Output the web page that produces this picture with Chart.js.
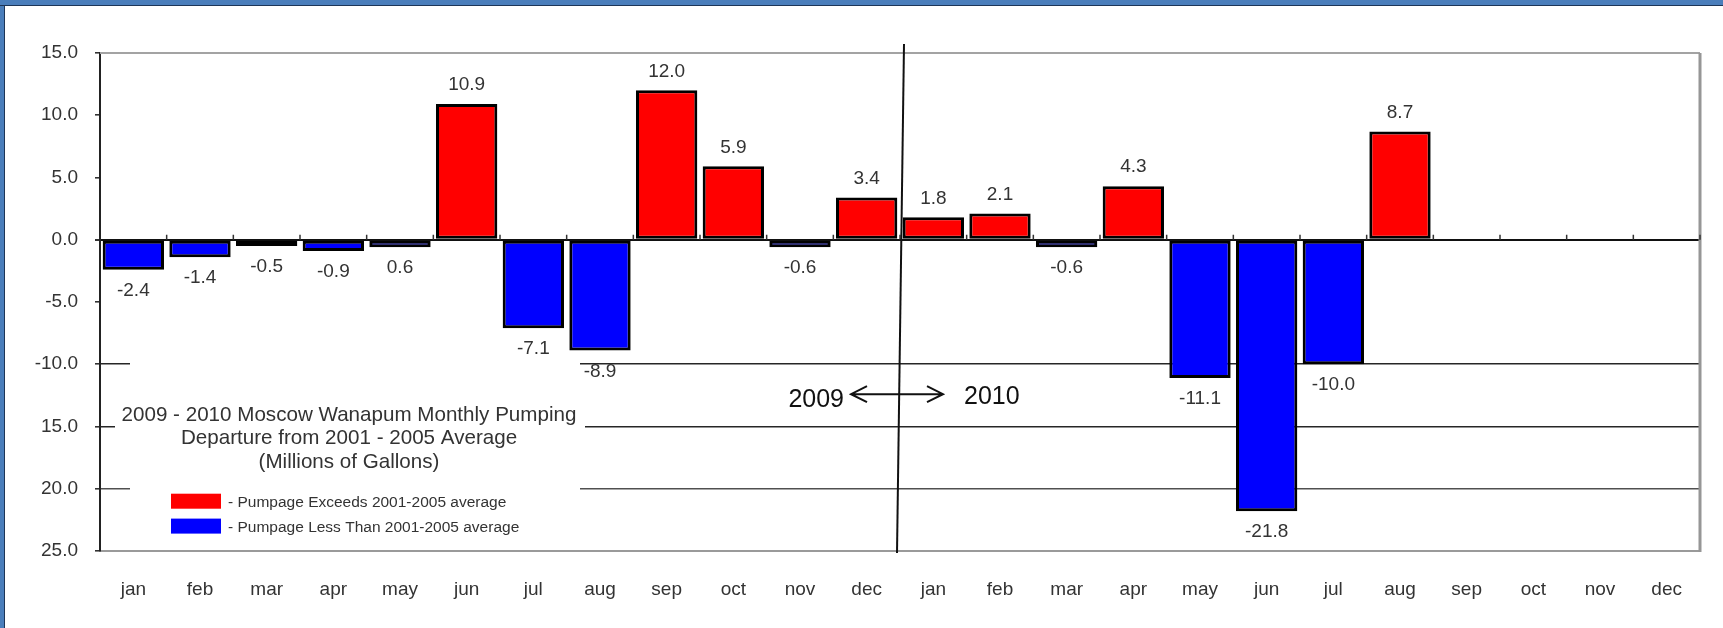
<!DOCTYPE html>
<html>
<head>
<meta charset="utf-8">
<script src="https://cdn.jsdelivr.net/npm/chart.js@4.4.0/dist/chart.umd.min.js"></script>
<style>
  html, body { margin: 0; padding: 0; background: #fff; }
  #wrap { position: relative; width: 1723px; height: 628px; }
</style>
</head>
<body>
<div id="wrap"><canvas id="c"></canvas></div>
<script>
// Moscow Wanapum monthly pumping departure, 2009-2010 (millions of gallons)

const MONTHS = ['jan', 'feb', 'mar', 'apr', 'may', 'jun', 'jul', 'aug', 'sep', 'oct', 'nov', 'dec',
                'jan', 'feb', 'mar', 'apr', 'may', 'jun', 'jul', 'aug', 'sep', 'oct', 'nov', 'dec'];

const DEPARTURE = [-2.4, -1.4, -0.5, -0.9, -0.6, 10.9, -7.1, -8.9, 12.0, 5.9, -0.6, 3.4,
                   1.8, 2.1, -0.6, 4.3, -11.1, -21.8, -10.0, 8.7, null, null, null, null];

// value labels as printed on the chart
const VALUE_LABELS = ['-2.4', '-1.4', '-0.5', '-0.9', '0.6', '10.9', '-7.1', '-8.9', '12.0', '5.9', '-0.6', '3.4',
                      '1.8', '2.1', '-0.6', '4.3', '-11.1', '-21.8', '-10.0', '8.7'];

const TICK_VALUES = [15, 10, 5, 0, -5, -10, -15, -20, -25];
const TICK_LABELS = ['15.0', '10.0', '5.0', '0.0', '-5.0', '-10.0', '15.0', '20.0', '25.0'];

const TITLE_LINES = ['2009 - 2010 Moscow Wanapum Monthly Pumping',
                     'Departure from 2001 - 2005 Average',
                     '(Millions of Gallons)'];
const LEGEND_TEXT = ['- Pumpage Exceeds 2001-2005 average',
                     '- Pumpage Less Than 2001-2005 average'];
const YEARS = ['2009', '2010'];

const RED = '#ff0000';
const BLUE = '#0000ff';
const FONT = '"Liberation Sans", Arial, sans-serif';

function gridColor(v) {
  if (v === 0) return '#111';
  if (v === -10 || v === -15) return '#262626';
  if (v === -20) return '#505050';
  return 'rgba(0,0,0,0)';
}

const frame = {
  id: 'frame',
  beforeDraw(chart) {
    const { ctx, width, height } = chart;
    ctx.save();
    ctx.fillStyle = '#fff';
    ctx.fillRect(0, 0, width, height);
    ctx.fillStyle = '#4a7ebb';
    ctx.fillRect(0, 0, width, 5);
    ctx.fillRect(0, 0, 4, height);
    ctx.fillStyle = '#1d3557';
    ctx.fillRect(0, 5, width, 1);
    ctx.fillRect(4, 5, 1, height);
    ctx.restore();
  }
};

const overlay = {
  id: 'overlay',
  afterDatasetsDraw(chart) {
    const { ctx, chartArea: a, scales: { x, y } } = chart;
    ctx.save();

    // white panel behind the title block
    ctx.fillStyle = '#fff';
    ctx.fillRect(a.left + 30, y.getPixelForValue(-9.5), 450, y.getPixelForValue(-24.6) - y.getPixelForValue(-9.5));
    ctx.fillRect(a.left + 15, y.getPixelForValue(-13.2), 470, 26);

    // top and right frame of plot area
    ctx.strokeStyle = '#a3a3a3';
    ctx.lineWidth = 2;
    ctx.beginPath();
    ctx.moveTo(a.left, a.top);
    ctx.lineTo(a.right, a.top);
    ctx.stroke();
    ctx.strokeStyle = '#969696';
    ctx.lineWidth = 3;
    ctx.beginPath();
    ctx.moveTo(a.right, a.top);
    ctx.lineTo(a.right, a.bottom + 1);
    ctx.stroke();

    // small category ticks on the zero line
    const y0 = y.getPixelForValue(0);
    const step = x.getPixelForValue(1) - x.getPixelForValue(0);
    ctx.strokeStyle = '#333';
    ctx.lineWidth = 1.5;
    ctx.beginPath();
    for (let i = 1; i <= MONTHS.length; i++) {
      const bx = x.getPixelForValue(i) - step / 2;
      ctx.moveTo(bx, y0);
      ctx.lineTo(bx, y0 - 5);
    }
    ctx.stroke();

    // year divider
    const bx = x.getPixelForValue(12) - step / 2;
    ctx.strokeStyle = '#111';
    ctx.lineWidth = 2;
    ctx.beginPath();
    ctx.moveTo(bx + 4, a.top - 9);
    ctx.lineTo(bx - 3, a.bottom + 2);
    ctx.stroke();

    // double arrow
    const ya = y.getPixelForValue(-12.4);
    const l = bx - 49, r = bx + 43;
    ctx.lineWidth = 2;
    ctx.beginPath();
    ctx.moveTo(l, ya); ctx.lineTo(r, ya);
    ctx.moveTo(l + 16, ya - 8); ctx.lineTo(l, ya); ctx.lineTo(l + 16, ya + 8);
    ctx.moveTo(r - 16, ya - 8); ctx.lineTo(r, ya); ctx.lineTo(r - 16, ya + 8);
    ctx.stroke();

    ctx.fillStyle = '#111';
    ctx.font = '25px ' + FONT;
    ctx.textBaseline = 'middle';
    ctx.textAlign = 'right';
    ctx.fillText(YEARS[0], bx - 56, ya + 6);
    ctx.textAlign = 'left';
    ctx.fillText(YEARS[1], bx + 64, ya + 3);

    // title
    ctx.fillStyle = '#333';
    ctx.font = '20.6px ' + FONT;
    ctx.textAlign = 'center';
    const ty = y.getPixelForValue(-14.1);
    TITLE_LINES.forEach((t, i) => ctx.fillText(t, a.left + 249, ty + i * 23.5));

    // legend
    const ly = [y.getPixelForValue(-21.0), y.getPixelForValue(-23.0)];
    [RED, BLUE].forEach((c, i) => {
      ctx.fillStyle = c;
      ctx.fillRect(a.left + 71, ly[i] - 7.5, 50, 15);
      ctx.fillStyle = '#333';
      ctx.font = '15.5px ' + FONT;
      ctx.textAlign = 'left';
      ctx.fillText(LEGEND_TEXT[i], a.left + 128, ly[i] + 2);
    });

    // value labels
    const meta = chart.getDatasetMeta(0);
    ctx.fillStyle = '#333';
    ctx.font = '19px ' + FONT;
    ctx.textAlign = 'center';
    meta.data.forEach((el, i) => {
      const v = DEPARTURE[i];
      if (v === null || v === undefined) return;
      ctx.fillText(VALUE_LABELS[i], el.x, v >= 0 ? el.y - 19 : el.y + 21);
    });

    ctx.restore();
  }
};

const canvas = document.getElementById('c');
new Chart(canvas.getContext('2d'), {
  type: 'bar',
  data: {
    labels: MONTHS,
    datasets: [{
      data: DEPARTURE,
      backgroundColor: ctx => (ctx.raw >= 0 ? RED : BLUE),
      borderColor: '#000',
      borderWidth: 3,
      borderSkipped: false,
      barPercentage: 0.92,
      categoryPercentage: 1.0
    }]
  },
  options: {
    responsive: true,
    maintainAspectRatio: false,
    animation: false,
    layout: { padding: { top: 53, right: 23, left: 0, bottom: 0 } },
    plugins: {
      legend: { display: false },
      tooltip: { enabled: false }
    },
    scales: {
      x: {
        grid: { display: false },
        border: { display: true, color: '#9a9a9a', width: 2 },
        ticks: { color: '#333', font: { family: FONT, size: 19 }, padding: 19, maxRotation: 0, autoSkip: false },
        afterFit: s => { s.height = 77; }
      },
      y: {
        min: -25,
        max: 15,
        afterBuildTicks: s => { s.ticks = TICK_VALUES.map(v => ({ value: v })); },
        ticks: {
          color: '#333',
          font: { family: FONT, size: 19 },
          padding: 17,
          callback: v => TICK_LABELS[TICK_VALUES.indexOf(v)]
        },
        grid: {
          color: ctx => gridColor(ctx.tick && ctx.tick.value),
          lineWidth: ctx => (ctx.tick && ctx.tick.value === 0 ? 2 : 1.6),
          tickColor: '#333',
          tickLength: 5
        },
        border: { color: '#222', width: 2 },
        afterFit: s => { s.width = 100; }
      }
    }
  },
  plugins: [frame, overlay]
});
</script>
</body>
</html>
